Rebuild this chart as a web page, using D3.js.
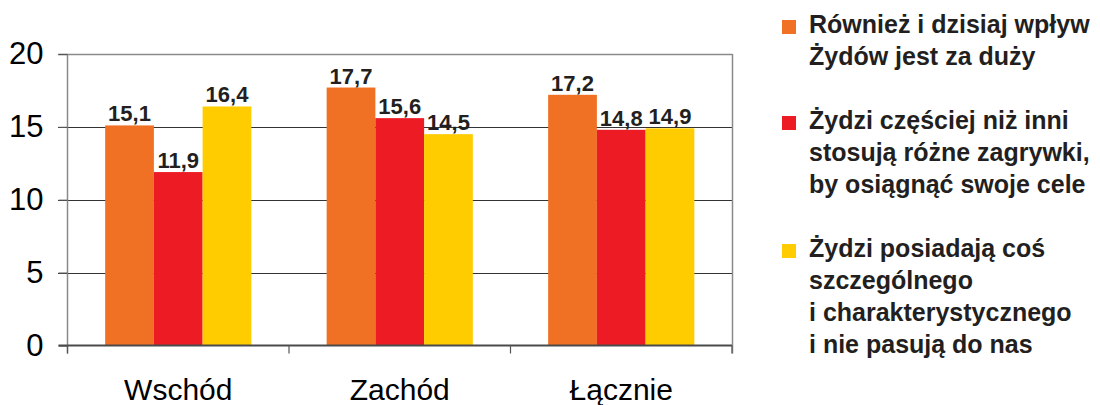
<!DOCTYPE html>
<html><head><meta charset="utf-8">
<script src="https://cdn.jsdelivr.net/npm/d3@7"></script>
<style>
html,body{margin:0;padding:0;background:#fff;}
svg{display:block;}
</style></head>
<body>
<svg id="chart" width="1100" height="405"></svg>
<script>
const categories = ["Wschód", "Zachód", "Łącznie"];
const seriesNames = ["s1", "s2", "s3"];
const series1 = [15.1, 17.7, 17.2];
const series2 = [11.9, 15.6, 14.8];
const series3 = [16.4, 14.5, 14.9];
const seriesColors = ["#F07124", "#ED1C24", "#FFCC00"];
const valueLabels1 = ["15,1", "17,7", "17,2"];
const valueLabels2 = ["11,9", "15,6", "14,8"];
const valueLabels3 = ["16,4", "14,5", "14,9"];
const yTicks = [0, 5, 10, 15, 20];
const legendLines = [
  ["Również i dzisiaj wpływ", "Żydów jest za duży"],
  ["Żydzi częściej niż inni", "stosują różne zagrywki,", "by osiągnąć swoje cele"],
  ["Żydzi posiadają coś", "szczególnego", "i charakterystycznego", "i nie pasują do nas"]
];

(function() {
const svg = d3.select("#chart");
const pLeft = 67.5, pRight = 732, pTop = 54, pBottom = 345.5;
const font = "'Liberation Sans', Arial, Helvetica, sans-serif";

const x = d3.scaleBand().domain(categories).range([pLeft, pRight]).padding(0);
const xInner = d3.scaleBand().domain(seriesNames)
  .range([x.bandwidth() * 0.17, x.bandwidth() * 0.83]).padding(0);
const y = d3.scaleLinear().domain([0, 20]).range([pBottom, pTop]);

const allSeries = [series1, series2, series3];
const allLabels = [valueLabels1, valueLabels2, valueLabels3];

const g = svg.append("g");
g.selectAll("line.grid").data(yTicks.filter(d => d > 0 && d < 20)).enter()
  .append("line")
  .attr("x1", 58).attr("x2", pRight)
  .attr("y1", d => Math.round(y(d)) + 0.5).attr("y2", d => Math.round(y(d)) + 0.5)
  .attr("stroke", "#333").attr("stroke-width", 1.2);
g.append("line").attr("x1", 58).attr("x2", pRight + 0.5)
  .attr("y1", Math.round(y(20)) + 0.5).attr("y2", Math.round(y(20)) + 0.5)
  .attr("stroke", "#8a8a8a").attr("stroke-width", 1.5);
g.append("line").attr("x1", pRight + 0.5).attr("x2", pRight + 0.5)
  .attr("y1", y(20)).attr("y2", pBottom + 8)
  .attr("stroke", "#8a8a8a").attr("stroke-width", 1.5);

const groups = svg.append("g").selectAll("g").data(categories).enter()
  .append("g").attr("transform", d => `translate(${x(d)},0)`);
groups.each(function(cat, ci) {
  const gg = d3.select(this);
  seriesNames.forEach((s, si) => {
    const v = allSeries[si][ci];
    gg.append("rect")
      .attr("x", xInner(s)).attr("width", xInner.bandwidth())
      .attr("y", y(v)).attr("height", y(0) - y(v))
      .attr("fill", seriesColors[si]);
    gg.append("text")
      .attr("x", xInner(s) + xInner.bandwidth() / 2)
      .attr("y", y(v) - 4)
      .attr("text-anchor", "middle")
      .attr("font-family", font).attr("font-weight", "bold")
      .attr("font-size", 22).attr("fill", "#231f20")
      .text(allLabels[si][ci]);
  });
});

const yAxis = svg.append("g").attr("transform", `translate(${pLeft},0)`)
  .call(d3.axisLeft(y).tickValues(yTicks).tickSize(9).tickPadding(15).tickFormat(d3.format("d")));
yAxis.select(".domain").attr("stroke", "#8a8a8a").attr("stroke-width", 1.5)
  .attr("d", `M0,${pTop}V${pBottom + 8}`);
yAxis.selectAll(".tick line").attr("stroke", "#555").attr("stroke-width", 1.2);
yAxis.selectAll(".tick text").attr("font-family", font).attr("font-size", 31).attr("fill", "#000");

const xAxis = svg.append("g").attr("transform", `translate(0,${pBottom})`)
  .call(d3.axisBottom(x).tickSize(0).tickPadding(0));
xAxis.select(".domain").attr("stroke", "#4a4a4a").attr("stroke-width", 2)
  .attr("d", `M${pLeft - 9},0H${pRight}`);
xAxis.selectAll(".tick text").attr("font-family", font).attr("font-size", 30)
  .attr("fill", "#000").attr("dy", null).attr("y", 54);
const bounds = categories.map(c => x(c)).concat([pRight]);
xAxis.selectAll("line.bt").data(bounds).enter().append("line")
  .attr("x1", d => d).attr("x2", d => d).attr("y1", 0).attr("y2", 8)
  .attr("stroke", "#555").attr("stroke-width", 1.2);

const lg = svg.append("g");
let lineIdx = 0;
legendLines.forEach((lines, i) => {
  const base = 33 + 32 * lineIdx;
  lg.append("rect").attr("x", 782).attr("y", base - 13).attr("width", 14).attr("height", 14)
    .attr("fill", seriesColors[i]);
  lines.forEach((t, j) => {
    lg.append("text").attr("x", 809).attr("y", base + 32 * j)
      .attr("font-family", font).attr("font-weight", "bold").attr("font-size", 25)
      .attr("fill", "#231f20").text(t);
  });
  lineIdx += lines.length + 1;
});
})();
</script>
</body></html>
